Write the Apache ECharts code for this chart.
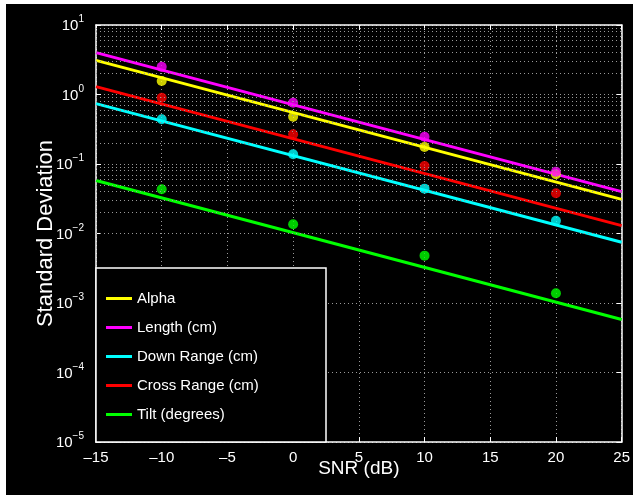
<!DOCTYPE html>
<html>
<head>
<meta charset="utf-8">
<script src="https://cdn.jsdelivr.net/npm/echarts@6/dist/echarts.min.js"></script>
<style>
html,body{margin:0;padding:0;background:#ffffff;width:633px;height:495px;overflow:hidden;}
#chart{position:absolute;left:6px;top:4px;width:627px;height:491px;}
</style>
</head>
<body>
<div id="chart"></div>
<script>
// Data points (SNR in dB)
var snr = [-10, 0, 10, 20];
var alphaPts = [1.56, 0.48, 0.176, 0.071];
var lengthPts = [2.5, 0.76, 0.247, 0.0775];
var downRangePts = [0.44, 0.138, 0.0442, 0.0153];
var crossRangePts = [0.9, 0.267, 0.0935, 0.038];
var tiltPts = [0.0433, 0.0136, 0.0048, 0.00138];

// Fitted lines (endpoints)
var fitSnr = [-15, 25];
var alphaFit = [3.1, 0.031];
var lengthFit = [4.0, 0.04];
var downRangeFit = [0.74, 0.0075];
var crossRangeFit = [1.3, 0.013];
var tiltFit = [0.058, 0.00058];

var names = ['Alpha', 'Length (cm)', 'Down Range (cm)', 'Cross Range (cm)', 'Tilt (degrees)'];
var colors = ['#ffff00', '#ff00ff', '#00ffff', '#ff0000', '#00ff00'];
var pts = [alphaPts, lengthPts, downRangePts, crossRangePts, tiltPts];
var fits = [alphaFit, lengthFit, downRangeFit, crossRangeFit, tiltFit];

function pairs(xs, ys) { return xs.map(function (x, i) { return [x, ys[i]]; }); }

var series = [];
// minor grid lines on log axis (2..9 x 10^n)
var minorLines = [];
for (var n = -5; n < 1; n++) {
  for (var k = 2; k <= 9; k++) minorLines.push({ yAxis: k * Math.pow(10, n) });
}
series.push({
  type: 'line', data: [], silent: true, z: 1,
  markLine: {
    silent: true, symbol: 'none', label: { show: false },
    lineStyle: { color: '#9a9a9a', type: [1, 3], width: 1 },
    data: minorLines, animation: false
  }
});
for (var i = 0; i < 5; i++) {
  series.push({
    name: names[i], type: 'line', data: pairs(fitSnr, fits[i]),
    showSymbol: false, symbol: 'none', z: 3,
    lineStyle: { color: colors[i], width: 3 }, itemStyle: { color: colors[i] }
  });
}
for (var j = 0; j < 5; j++) {
  series.push({
    name: names[j] + ' data', type: 'scatter', data: pairs(snr, pts[j]),
    symbol: 'circle', symbolSize: 10, z: 4,
    itemStyle: { color: colors[j] }
  });
}

function dashNum(v) { return String(v).replace('-', '\u2013'); }

var FONT = 'Liberation Sans, Arial, sans-serif';
var chart = echarts.init(document.getElementById('chart'));
chart.setOption({
  backgroundColor: '#000000',
  animation: false,
  textStyle: { fontFamily: FONT },
  grid: { left: 90, top: 21, right: 9, bottom: 53 },
  xAxis: [{
    type: 'value', min: -15, max: 25, interval: 5,
    name: 'SNR (dB)', nameLocation: 'middle', nameGap: 17, nameMoveOverlap: false,
    nameTextStyle: { color: '#ffffff', fontSize: 19, verticalAlign: 'top' },
    axisLine: { onZero: false, lineStyle: { color: '#ffffff', width: 1.5 } },
    axisTick: { inside: true, length: 5, lineStyle: { color: '#ffffff' } },
    axisLabel: { color: '#ffffff', fontSize: 15, margin: 8, formatter: dashNum },
    splitLine: { show: true, lineStyle: { color: '#9a9a9a', type: [1, 3], width: 1 } }
  }, {
    type: 'value', min: -15, max: 25, interval: 5, position: 'top',
    axisLine: { show: true, onZero: false, lineStyle: { color: '#ffffff', width: 1.5 } },
    axisTick: { inside: true, length: 5, lineStyle: { color: '#ffffff' } },
    axisLabel: { show: false }, splitLine: { show: false }
  }],
  yAxis: [{
    type: 'log', logBase: 10, min: 1e-5, max: 10,
    name: 'Standard Deviation', nameLocation: 'middle', nameGap: 39, nameMoveOverlap: false,
    nameTextStyle: { color: '#ffffff', fontSize: 22 },
    axisLine: { show: true, onZero: false, lineStyle: { color: '#ffffff', width: 1.5 } },
    axisTick: { show: true, inside: true, length: 5, lineStyle: { color: '#ffffff' } },
    axisLabel: {
      color: '#ffffff', margin: 12,
      formatter: function (v) {
        var e = Math.round(Math.log(v) / Math.LN10);
        return '{b|10}{e|' + String(e).replace('-', '\u2212') + '}';
      },
      rich: {
        b: { fontSize: 15, color: '#ffffff', lineHeight: 17, verticalAlign: 'bottom', fontFamily: FONT },
        e: { fontSize: 10, color: '#ffffff', lineHeight: 10, padding: [0, 0, 9, 0], verticalAlign: 'bottom', fontFamily: FONT }
      }
    },
    splitLine: { show: true, lineStyle: { color: '#9a9a9a', type: [1, 3], width: 1 } }
  }, {
    type: 'log', logBase: 10, min: 1e-5, max: 10, position: 'right',
    axisLine: { show: true, onZero: false, lineStyle: { color: '#ffffff', width: 1.5 } },
    axisTick: { show: true, inside: true, length: 5, lineStyle: { color: '#ffffff' } },
    axisLabel: { show: false }, splitLine: { show: false }
  }],
  legend: {
    data: names, orient: 'vertical', left: 95, top: 282, z: 7,
    icon: 'rect', itemWidth: 26, itemHeight: 3, itemGap: 14,
    textStyle: { color: '#ffffff', fontSize: 15, lineHeight: 15 },
    selectedMode: false
  },
  graphic: [{
    type: 'rect', z: 6,
    shape: { x: 90, y: 264, width: 230, height: 174 },
    style: { fill: '#000000', stroke: '#ffffff', lineWidth: 1.5 }
  }],
  series: series
});
</script>
</body>
</html>
